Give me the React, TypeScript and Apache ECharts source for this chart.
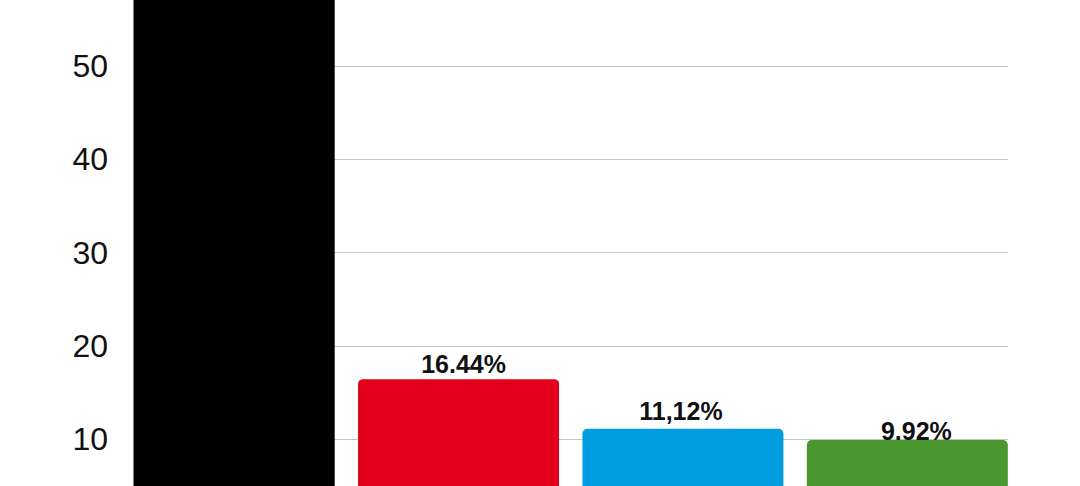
import React, { useEffect, useRef } from "react";
import * as echarts from "echarts";

const categories = ["Schwarz", "Rot", "Blau", "Grün"];
const values = [62.5, 16.44, 11.12, 9.92];
const valueLabels = ["62,5%", "16.44%", "11,12%", "9.92%"];
const barColors = ["#000000", "#e2001a", "#009ee0", "#4a962f"];
const yMin = 0;
const yMax = 57.6;
const yInterval = 10;

const labelOffsets: [number, number][] = [[0, 0], [5, 2], [-2, 0], [9, 8]];

export default function App() {
  const ref = useRef<HTMLDivElement>(null);
  useEffect(() => {
    if (!ref.current) return;
    const chart = echarts.init(ref.current, undefined, { renderer: "svg" });
    const font = "'Liberation Sans', Arial, Helvetica, sans-serif";
    const gridBox = { top: 195.0, bottom: 67.4 };
    chart.setOption({
      animation: false,
      backgroundColor: "#ffffff",
      grid: [
        { left: 133, right: 72, ...gridBox },
        { left: 122, right: 60.5, ...gridBox },
      ],
      xAxis: [
        { type: "category", gridIndex: 0, data: categories, show: false },
        {
          type: "category",
          gridIndex: 1,
          data: categories,
          axisLine: { show: false },
          axisTick: { show: false },
          axisLabel: { show: false },
        },
      ],
      yAxis: [
        {
          type: "value",
          gridIndex: 0,
          min: yMin,
          max: yMax,
          interval: yInterval,
          axisLine: { show: true, lineStyle: { color: "#b5b5b5", width: 1 } },
          axisTick: { show: false },
          axisLabel: {
            fontSize: 32,
            color: "#111111",
            margin: 25,
            fontFamily: font,
            showMinLabel: false,
            showMaxLabel: false,
          },
          splitLine: { show: true, lineStyle: { color: "#c4c4c4", width: 1 } },
        },
        {
          type: "value",
          gridIndex: 1,
          min: yMin,
          max: yMax,
          interval: yInterval,
          show: false,
          splitLine: { show: false },
        },
      ],
      series: [
        {
          type: "bar",
          xAxisIndex: 1,
          yAxisIndex: 1,
          barWidth: 201,
          data: values.map((v, i) => ({
            value: v,
            itemStyle: {
              color: barColors[i],
              borderRadius: v < yMax ? [5, 5, 0, 0] : 0,
            },
            label: { offset: labelOffsets[i], show: v < yMax },
          })),
          label: {
            show: true,
            position: "top",
            distance: 5,
            formatter: (p: any) => valueLabels[p.dataIndex],
            fontSize: 25,
            fontWeight: "bold",
            color: "#111111",
            fontFamily: font,
          },
        },
      ],
    });
    return () => chart.dispose();
  }, []);
  return (
    <div
      style={{
        position: "fixed",
        left: 0,
        top: 0,
        width: 1080,
        height: 486,
        overflow: "hidden",
        background: "#ffffff",
      }}
    >
      <div
        ref={ref}
        style={{ position: "absolute", left: 0, top: -200, width: 1080, height: 800 }}
      />
    </div>
  );
}
